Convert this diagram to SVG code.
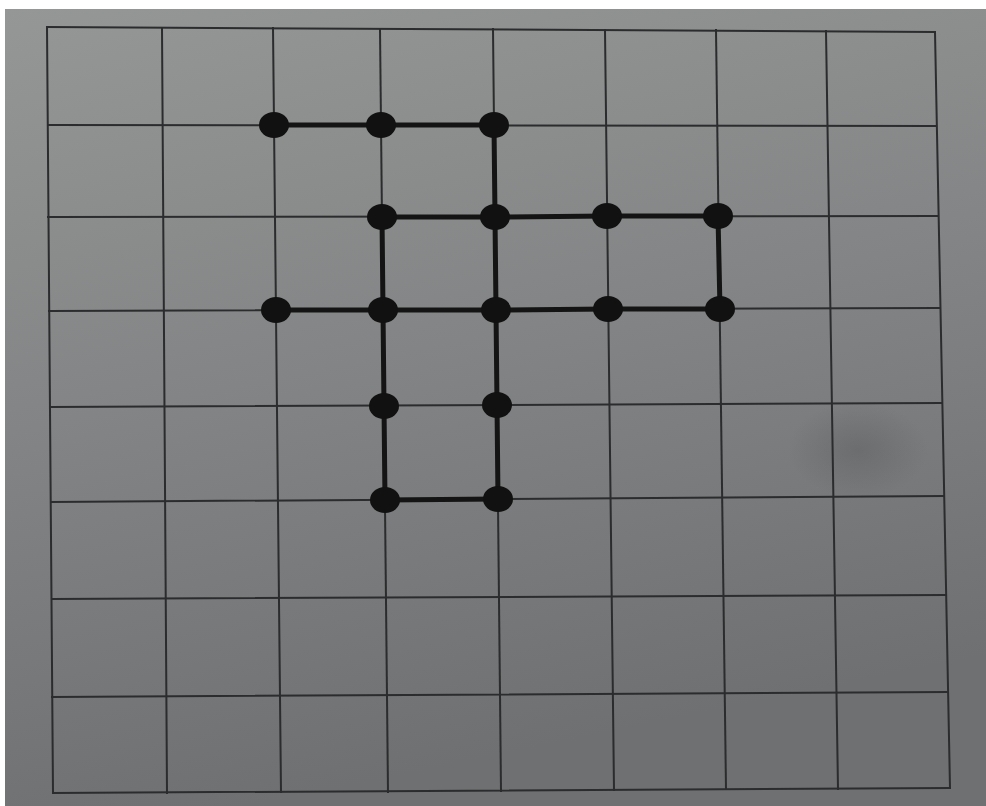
<svg xmlns="http://www.w3.org/2000/svg" width="986" height="806" viewBox="0 0 986 806">
<defs>
<linearGradient id="paper" x1="0" y1="0" x2="0.25" y2="1">
<stop offset="0" stop-color="#959796"/>
<stop offset="0.5" stop-color="#838485"/>
<stop offset="1" stop-color="#6f7071"/>
</linearGradient>
<radialGradient id="smudge" cx="0.5" cy="0.5" r="0.5">
<stop offset="0" stop-color="#5e5f62" stop-opacity="0.5"/>
<stop offset="0.6" stop-color="#5e5f62" stop-opacity="0.2"/>
<stop offset="1" stop-color="#5e5f62" stop-opacity="0"/>
</radialGradient>
<style>
.grid line{stroke:#2b2c2d;stroke-width:2;stroke-linecap:square}
.edges line{stroke:#141414;stroke-width:5;stroke-linecap:round}
.dot{fill:#111111}
</style>
</defs>
<rect x="0" y="0" width="986" height="806" fill="#ffffff"/>
<rect x="5" y="9" width="981" height="797" fill="url(#paper)"/>
<ellipse cx="858" cy="450" rx="70" ry="48" fill="url(#smudge)"/>
<g id="grid" class="grid">
<line x1="47" y1="27" x2="53" y2="793"/>
<line x1="162" y1="28" x2="167" y2="793"/>
<line x1="273" y1="28" x2="281" y2="792"/>
<line x1="380" y1="29" x2="388" y2="792"/>
<line x1="493" y1="29" x2="501" y2="791"/>
<line x1="605" y1="30" x2="614" y2="790"/>
<line x1="716" y1="30" x2="726" y2="789"/>
<line x1="826" y1="31" x2="838" y2="789"/>
<line x1="935" y1="32" x2="950" y2="788"/>
<line x1="47" y1="27" x2="935" y2="32"/>
<line x1="48" y1="125" x2="936" y2="126"/>
<line x1="48" y1="217" x2="937" y2="216"/>
<line x1="49" y1="311" x2="939" y2="308"/>
<line x1="50" y1="407" x2="941" y2="403"/>
<line x1="51" y1="502" x2="944" y2="496"/>
<line x1="52" y1="599" x2="946" y2="595"/>
<line x1="52" y1="697" x2="948" y2="692"/>
<line x1="53" y1="793" x2="950" y2="788"/>
</g>
<g id="connectors" class="edges">
<line x1="274" y1="125" x2="381" y2="125"/>
<line x1="381" y1="125" x2="494" y2="125"/>
<line x1="494" y1="125" x2="495" y2="217"/>
<line x1="495" y1="217" x2="496" y2="310"/>
<line x1="496" y1="310" x2="497" y2="405"/>
<line x1="497" y1="405" x2="498" y2="499"/>
<line x1="382" y1="217" x2="495" y2="217"/>
<line x1="495" y1="217" x2="607" y2="216"/>
<line x1="607" y1="216" x2="718" y2="216"/>
<line x1="718" y1="216" x2="720" y2="309"/>
<line x1="276" y1="310" x2="383" y2="310"/>
<line x1="383" y1="310" x2="496" y2="310"/>
<line x1="496" y1="310" x2="608" y2="309"/>
<line x1="608" y1="309" x2="720" y2="309"/>
<line x1="382" y1="217" x2="383" y2="310"/>
<line x1="383" y1="310" x2="384" y2="406"/>
<line x1="384" y1="406" x2="385" y2="500"/>
<line x1="385" y1="500" x2="498" y2="499"/>
</g>
<g id="n-c2-r1"><ellipse class="dot" cx="274" cy="125" rx="15" ry="13"/></g>
<g id="n-c3-r1"><ellipse class="dot" cx="381" cy="125" rx="15" ry="13"/></g>
<g id="n-c4-r1"><ellipse class="dot" cx="494" cy="125" rx="15" ry="13"/></g>
<g id="n-c3-r2"><ellipse class="dot" cx="382" cy="217" rx="15" ry="13"/></g>
<g id="n-c4-r2"><ellipse class="dot" cx="495" cy="217" rx="15" ry="13"/></g>
<g id="n-c5-r2"><ellipse class="dot" cx="607" cy="216" rx="15" ry="13"/></g>
<g id="n-c6-r2"><ellipse class="dot" cx="718" cy="216" rx="15" ry="13"/></g>
<g id="n-c2-r3"><ellipse class="dot" cx="276" cy="310" rx="15" ry="13"/></g>
<g id="n-c3-r3"><ellipse class="dot" cx="383" cy="310" rx="15" ry="13"/></g>
<g id="n-c4-r3"><ellipse class="dot" cx="496" cy="310" rx="15" ry="13"/></g>
<g id="n-c5-r3"><ellipse class="dot" cx="608" cy="309" rx="15" ry="13"/></g>
<g id="n-c6-r3"><ellipse class="dot" cx="720" cy="309" rx="15" ry="13"/></g>
<g id="n-c3-r4"><ellipse class="dot" cx="384" cy="406" rx="15" ry="13"/></g>
<g id="n-c4-r4"><ellipse class="dot" cx="497" cy="405" rx="15" ry="13"/></g>
<g id="n-c3-r5"><ellipse class="dot" cx="385" cy="500" rx="15" ry="13"/></g>
<g id="n-c4-r5"><ellipse class="dot" cx="498" cy="499" rx="15" ry="13"/></g>
</svg>
